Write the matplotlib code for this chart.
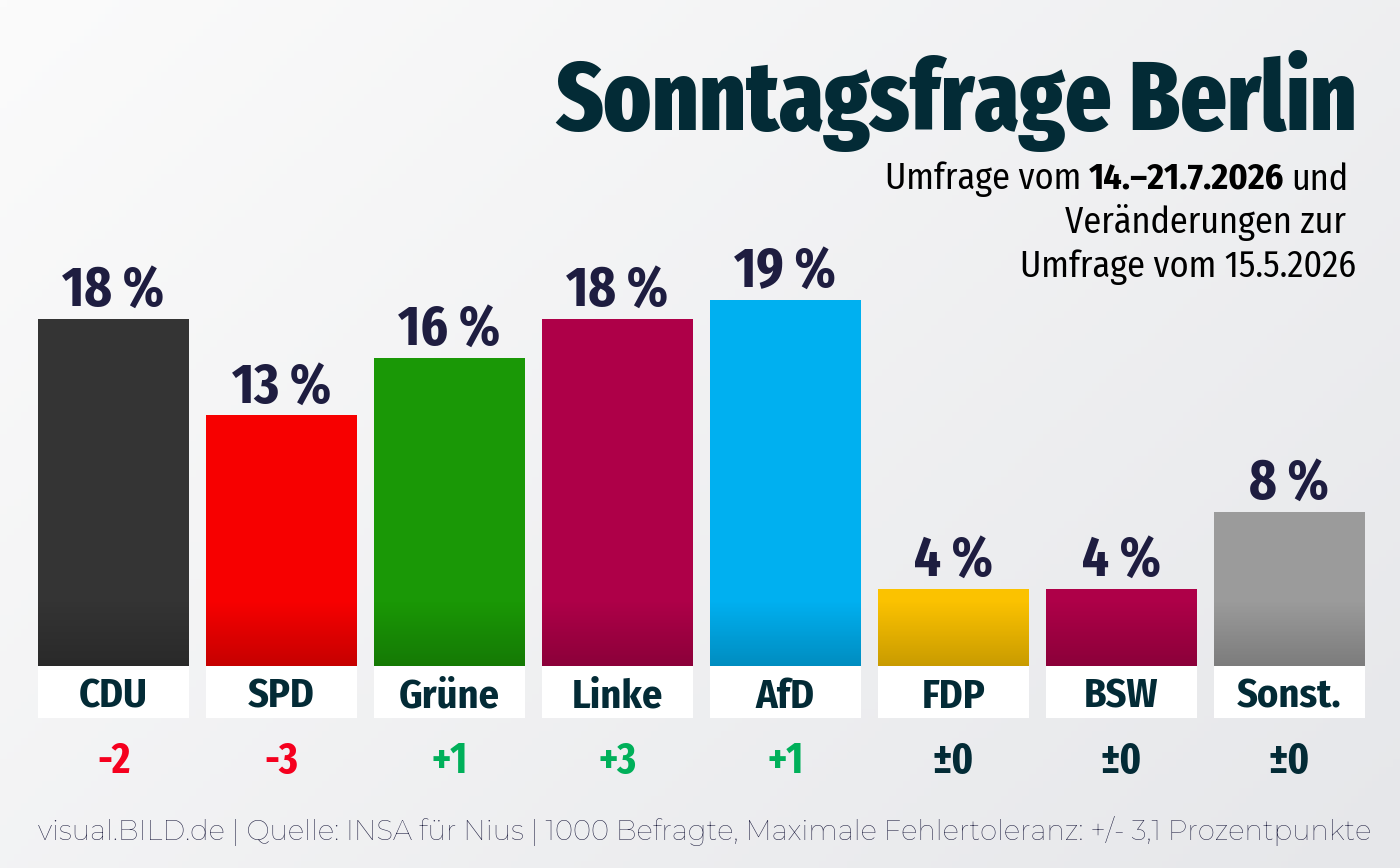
import matplotlib
matplotlib.use("Agg")
import matplotlib.pyplot as plt
import numpy as np
from matplotlib.colors import to_rgb

parties = ["CDU", "SPD", "Grüne", "Linke", "AfD", "FDP", "BSW", "Sonst."]
values = [18, 13, 16, 18, 19, 4, 4, 8]
changes = [-2, -3, 1, 3, 1, 0, 0, 0]
colors = ["#343434", "#f70000", "#1a9806", "#ae0048", "#00b0f0", "#fbc200", "#ae0048", "#9b9b9b"]

title = "Sonntagsfrage Berlin"
footer = "visual.BILD.de | Quelle: INSA für Nius | 1000 Befragte, Maximale Fehlertoleranz: +/- 3,1 Prozentpunkte"

W, H = 1400, 868
PX = 19.28  # pixels per percentage point
XCOND = ["Fira Sans Extra Condensed", "DejaVu Sans"]
COND = ["Fira Sans Condensed", "Fira Sans Extra Condensed", "DejaVu Sans"]
DARK = "#032b36"
NAVY = "#1e1d40"

fig = plt.figure(figsize=(W / 100, H / 100), dpi=100)

# background gradient
bg = fig.add_axes([0, 0, 1, 1])
gx, gy = np.meshgrid(np.linspace(0, 1, 200), np.linspace(0, 1, 120))
g = gx * 0.6 + gy * 0.4
c0, c1 = np.array(to_rgb("#fbfbfb")), np.array(to_rgb("#e6e7ea"))
bg.imshow(c0 + g[..., None] * (c1 - c0), extent=[0, 1, 0, 1], aspect="auto")
bg.axis("off")

ax = fig.add_axes([29.5 / W, 0, 1344 / W, 1])
ax.set_xlim(-0.5, len(parties) - 0.5)
ax.set_ylim(-(H - 666) / PX, 666 / PX)
ax.axis("off")

x = np.arange(len(parties))
bw = 151 / 168
ax.bar(x, values, width=bw, color=colors, zorder=2)

# darker gradient at the bottom of each bar
grad_h = 66 / PX
for xi, v in zip(x, values):
    h = min(grad_h, v)
    shade = np.zeros((50, 1, 4))
    shade[..., 3] = np.linspace(0.2 * (1 - h / grad_h), 0.2, 50)[:, None]
    ax.imshow(shade, extent=[xi - bw / 2, xi + bw / 2, 0, h], aspect="auto",
              origin="upper", zorder=3, interpolation="bilinear")

# white label boxes
ax.bar(x, [52 / PX] * len(x), bottom=-52 / PX, width=bw, color="white", zorder=2)

for xi, v, p, d in zip(x, values, parties, changes):
    ax.text(xi, v + 13 / PX, f"{v} %", ha="center", va="baseline",
            family=XCOND, weight="bold", fontsize=41, color=NAVY, zorder=4)
    ax.text(xi, -(708 - 666) / PX, p, ha="center", va="baseline",
            family=COND, weight="bold", fontsize=29, color=DARK, zorder=4)
    if d > 0:
        s, col = f"+{d}", "#00b05a"
    elif d < 0:
        s, col = f"-{abs(d)}", "#f5001e"
    else:
        s, col = "±0", DARK
    ax.text(xi, -(773 - 666) / PX, s, ha="center", va="baseline",
            family=XCOND, weight="bold", fontsize=31, color=col, zorder=4)

fig.text(1357 / W, 1 - 130 / H, title, ha="right", va="baseline",
         family=XCOND, weight="heavy", fontsize=71, color=DARK)

# subtitle
t3 = fig.text(1348 / W, 1 - 190 / H, "und", ha="right", va="baseline",
              family=COND, fontsize=26, color="black")
a2 = ax.annotate("14.–21.7.2026", xy=(0, 0), xycoords=t3, xytext=(-5, 0),
                 textcoords="offset points", ha="right", va="bottom",
                 family=COND, weight="bold", fontsize=26, color="black")
ax.annotate("Umfrage vom", xy=(0, 0), xycoords=a2, xytext=(-5, 0),
            textcoords="offset points", ha="right", va="bottom",
            family=COND, fontsize=26, color="black")
fig.text(1346 / W, 1 - 233 / H, "Veränderungen zur", ha="right", va="baseline",
         family=COND, fontsize=26, color="black")
fig.text(1356 / W, 1 - 277 / H, "Umfrage vom 15.5.2026", ha="right", va="baseline",
         family=COND, fontsize=26, color="black")

fig.text(38 / W, 1 - 840 / H, footer, ha="left", va="baseline",
         family=["Montserrat", "Lato", "DejaVu Sans"], weight="normal", fontsize=19.9,
         color="#1a1a3c")

fig.savefig("out.png", dpi=100)
